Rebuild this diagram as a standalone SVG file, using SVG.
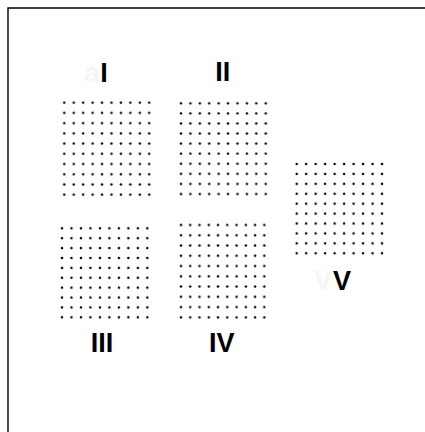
<svg xmlns="http://www.w3.org/2000/svg" width="425" height="432" viewBox="0 0 425 432">
<style>
.lbl{font-family:"Liberation Sans Narrow","Liberation Sans",Arial,sans-serif;font-weight:bold;font-size:27px;fill:#000;text-anchor:middle}
.ghost{font-family:"Liberation Sans Narrow","Liberation Sans",Arial,sans-serif;font-weight:bold;font-size:27px;fill:#f5f5f5;text-anchor:middle}
.dot{fill:#000}
</style>
<defs>
<pattern id="p1" patternUnits="userSpaceOnUse" x="59.58" y="97.59" width="9.44" height="10.22"><circle class="dot" cx="4.72" cy="5.11" r="1.25"/></pattern>
<pattern id="p2" patternUnits="userSpaceOnUse" x="176.3" y="98.26" width="9.41" height="10.08"><circle class="dot" cx="4.705" cy="5.04" r="1.25"/></pattern>
<pattern id="p3" patternUnits="userSpaceOnUse" x="57.26" y="223.36" width="9.48" height="9.89"><circle class="dot" cx="4.74" cy="4.945" r="1.25"/></pattern>
<pattern id="p4" patternUnits="userSpaceOnUse" x="176.37" y="219.87" width="9.26" height="10.26"><circle class="dot" cx="4.63" cy="5.13" r="1.25"/></pattern>
<pattern id="p5" patternUnits="userSpaceOnUse" x="291.96" y="159.04" width="9.48" height="9.92"><circle class="dot" cx="4.74" cy="4.96" r="1.25"/></pattern>
</defs>
<rect width="425" height="432" fill="#fff"/>
<g id="frame"><path d="M8,432 V8 H425" fill="none" stroke="#000" stroke-width="1.4"/></g>
<g id="connectors"></g>
<g id="node-I">
<text class="ghost" x="92" y="81.7">a</text>
<text class="lbl" x="104" y="81.7">I</text>
<rect x="59.58" y="97.59" width="94.4" height="102.2" fill="url(#p1)"/>
</g>
<g id="node-II">
<text class="lbl" x="222.8" y="81">II</text>
<rect x="176.3" y="98.26" width="94.1" height="100.8" fill="url(#p2)"/>
</g>
<g id="node-III">
<rect x="57.26" y="223.36" width="94.8" height="98.9" fill="url(#p3)"/>
<text class="lbl" x="102" y="351.7">III</text>
</g>
<g id="node-IV">
<rect x="176.37" y="219.87" width="92.6" height="102.6" fill="url(#p4)"/>
<text class="lbl" x="221.7" y="351.7">IV</text>
</g>
<g id="node-V">
<rect x="291.96" y="159.04" width="94.8" height="99.2" fill="url(#p5)"/>
<text class="ghost" x="323" y="290">V</text>
<text class="lbl" x="342" y="290">V</text>
</g>
</svg>
